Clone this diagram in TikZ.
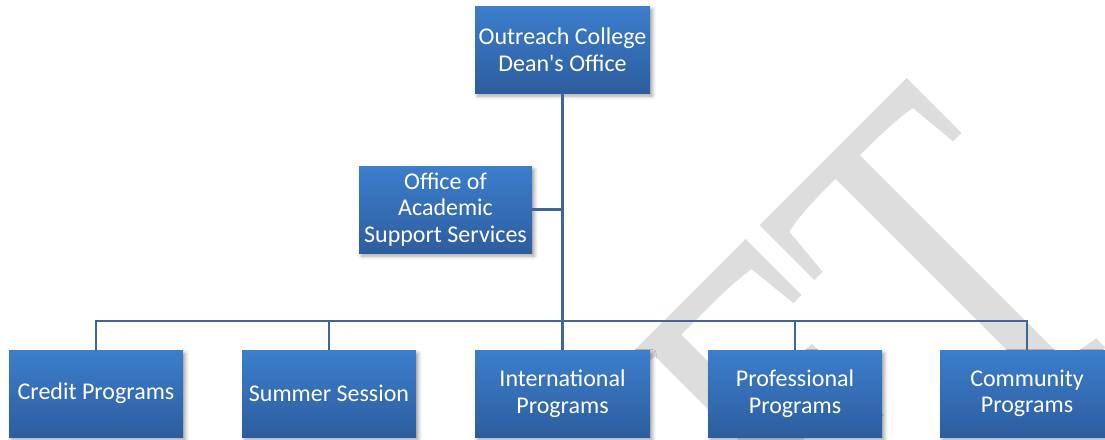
\documentclass[tikz,border=0pt]{standalone}
\usepackage{fontspec}
\setmainfont{Carlito}
\newfontfamily\markfont{Liberation Serif}
\usetikzlibrary{shadows.blur}

\definecolor{boxtop}{RGB}{60,126,204}
\definecolor{boxbottom}{RGB}{45,93,158}
\definecolor{linkblue}{RGB}{64,102,152}
\definecolor{markgray}{RGB}{221,221,221}

\tikzset{
  unit/.style={
    rectangle, minimum width=174pt, minimum height=87pt, inner sep=2pt,
    top color=boxtop, bottom color=boxbottom, draw=none,
    text=white, align=center,
    font=\fontsize{24}{26.6}\selectfont,
    blur shadow={shadow xshift=2.5pt, shadow yshift=-3pt,
                 shadow blur radius=3.5pt, shadow opacity=35}
  },
  link/.style={draw=linkblue, line width=2.2pt}
}

\begin{document}
\begin{tikzpicture}[x=1pt, y=-1pt]
  \useasboundingbox (0,0) rectangle (1105,439);
  \clip (0,0) rectangle (1105,439);

  % background watermark
  \node[anchor=base east, rotate=45, inner sep=0pt, text=markgray,
        font=\markfont\fontsize{506}{506}\selectfont]
    (mark) at (1146,308) {\scalebox{0.714}[1]{DRAFT}};

  % units
  \node[unit, minimum width=175pt] (dean) at (562.5,49.5)
    {Outreach College\\Dean\textquotesingle s Office};
  \node[unit, minimum width=173pt] (oass) at (445.5,209.5)
    {Office of\\Academic\\Support Services};
  \node[unit] (credit) at (96,393.5) {Credit Programs};
  \node[unit] (summer) at (329,393.5) {Summer Session};
  \node[unit, minimum width=175pt] (intl) at (562.5,393.5)
    {International\\Programs};
  \node[unit] (prof) at (795,393.5) {Professional\\Programs};
  \node[unit] (comm) at (1027,393.5) {Community\\Programs};

  \coordinate (bus) at (562.5,321);

  % connectors
  \path[link] (dean.south) -- (intl.north);
  \path[link] (oass.east) -- (oass.east -| dean.south);
  \path[link] (credit.north) -- (credit.north |- bus) -- (comm.north |- bus) -- (comm.north);
  \path[link] (summer.north) -- (summer.north |- bus);
  \path[link] (prof.north) -- (prof.north |- bus);
\end{tikzpicture}
\end{document}
